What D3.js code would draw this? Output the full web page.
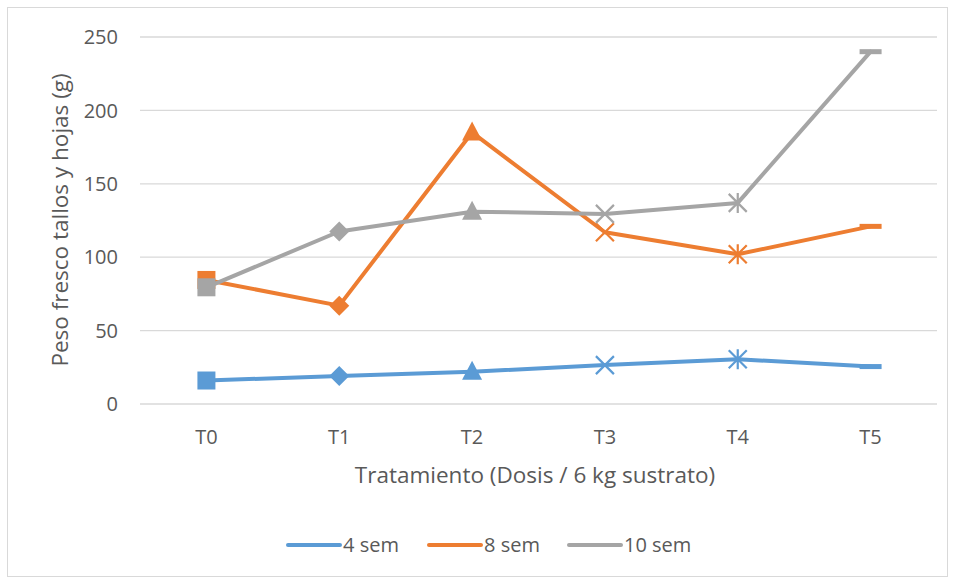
<!DOCTYPE html>
<html><head><meta charset="utf-8">
<script src="https://cdn.jsdelivr.net/npm/d3@7"></script>
<style>body{margin:0;background:#fff;} text{font-family:"Open Sans",sans-serif;}</style>
</head><body><svg id="c" width="956" height="579"></svg>
<script>
const categories = ["T0","T1","T2","T3","T4","T5"];
const seriesNames = ["4 sem","8 sem","10 sem"];
const sem4 = [16, 19, 22, 26.5, 30.5, 25.5];
const sem8 = [84.5, 67, 185, 117, 102, 121];
const sem10 = [79.5, 117.5, 131, 129.5, 137, 240];
const colors = ["#5B9BD5","#ED7D31","#A5A5A5"];
const yTicks = [0,50,100,150,200,250];
const markerShapes = ["square","diamond","triangle","x","star","dash"];

const svg = d3.select("#c");
svg.append("rect").attr("x",7.5).attr("y",7.5).attr("width",940).attr("height",569)
  .attr("fill","#fff").attr("stroke","#D9D9D9");

const x = d3.scaleBand().domain(categories).range([140,937]);
const y = d3.scaleLinear().domain([0,250]).range([404,37]);

svg.append("g").selectAll("line").data(yTicks).join("line")
  .attr("x1",140).attr("x2",937).attr("y1",d=>y(d)).attr("y2",d=>y(d))
  .attr("stroke","#D9D9D9").attr("stroke-width",1.3);

svg.append("g").selectAll("text").data(yTicks).join("text")
  .attr("x",118).attr("y",d=>y(d)).attr("dy","0.36em").attr("text-anchor","end")
  .attr("fill","#595959").attr("font-size",20).text(d=>d);

svg.append("g").selectAll("text").data(categories).join("text")
  .attr("x",d=>x(d)+x.bandwidth()/2).attr("y",437).attr("dy","0.36em").attr("text-anchor","middle")
  .attr("fill","#595959").attr("font-size",20).text(d=>d);

svg.append("text").attr("x",535).attr("y",475).attr("dy","0.36em").attr("text-anchor","middle")
  .attr("fill","#595959").attr("font-size",22.5).text("Tratamiento (Dosis / 6 kg sustrato)");
svg.append("text").attr("transform","translate(60,220) rotate(-90)").attr("dy","0.36em").attr("text-anchor","middle")
  .attr("fill","#595959").attr("font-size",22.5).text("Peso fresco tallos y hojas (g)");

const data = [sem4, sem8, sem10];
const cx = i => x(categories[i]) + x.bandwidth()/2;
const line = d3.line().x((d,i)=>cx(i)).y(d=>y(d));

function drawMarker(g, shape, px, py, col){
  const s = 9;
  if(shape==="square") g.append("rect").attr("x",px-s).attr("y",py-s).attr("width",2*s).attr("height",2*s).attr("fill",col);
  else if(shape==="diamond") g.append("path").attr("d",`M${px},${py-s-1}L${px+s+1},${py}L${px},${py+s+1}L${px-s-1},${py}Z`).attr("fill",col);
  else if(shape==="triangle") g.append("path").attr("d",`M${px},${py-s-2}L${px+s+1},${py+s-1}L${px-s-1},${py+s-1}Z`).attr("fill",col);
  else if(shape==="x") g.append("path").attr("d",`M${px-s},${py-s}L${px+s},${py+s}M${px+s},${py-s}L${px-s},${py+s}`).attr("stroke",col).attr("stroke-width",2.2).attr("fill","none");
  else if(shape==="star") g.append("path").attr("d",`M${px-s},${py-s}L${px+s},${py+s}M${px+s},${py-s}L${px-s},${py+s}M${px},${py-s-1}L${px},${py+s+1}`).attr("stroke",col).attr("stroke-width",2.2).attr("fill","none");
  else if(shape==="dash") g.append("rect").attr("x",px-11).attr("y",py-2.5).attr("width",22).attr("height",5).attr("fill",col);
}

data.forEach((vals,k)=>{
  const g = svg.append("g");
  g.append("path").datum(vals).attr("d",line).attr("fill","none").attr("stroke",colors[k])
    .attr("stroke-width",4).attr("stroke-linejoin","round").attr("stroke-linecap","round");
  vals.forEach((v,i)=>drawMarker(g, markerShapes[i], cx(i), y(v), colors[k]));
});

const legX = [288, 429, 569];
seriesNames.forEach((n,k)=>{
  svg.append("line").attr("x1",legX[k]).attr("x2",legX[k]+52).attr("y1",545).attr("y2",545)
    .attr("stroke",colors[k]).attr("stroke-width",4).attr("stroke-linecap","round");
  svg.append("text").attr("x",legX[k]+55).attr("y",545).attr("dy","0.36em").attr("fill","#595959")
    .attr("font-size",20).text(n);
});
</script></body></html>
